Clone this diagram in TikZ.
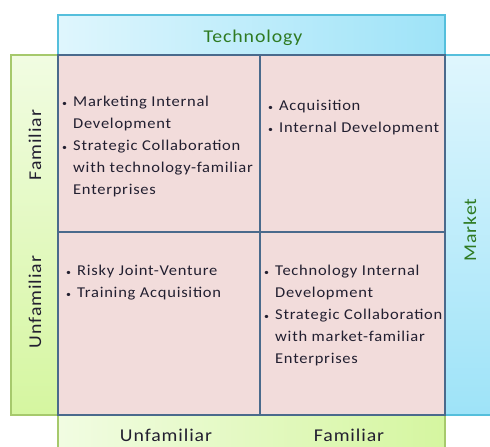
\documentclass[tikz,border=0pt]{standalone}
\usepackage{fontspec}
\setmainfont{Carlito}
\newfontfamily\wideface[FakeStretch=1.1,LetterSpace=5]{Carlito}
\usepackage{xcolor}
\usepackage{tikz}
\usetikzlibrary{positioning}

\definecolor{cellpink}{HTML}{F2DCDB}
\definecolor{gridblue}{HTML}{4A6A8C}
\definecolor{cyanlight}{HTML}{DFF6FD}
\definecolor{cyandark}{HTML}{9EE3F8}
\definecolor{cyanline}{HTML}{55BFDC}
\definecolor{greenlight}{HTML}{F1FCE2}
\definecolor{greendark}{HTML}{D5F6A0}
\definecolor{greenline}{HTML}{A6C96C}
\definecolor{headgreen}{HTML}{2E7A22}
\definecolor{bodytext}{HTML}{221F30}

\newcommand{\itm}{\makebox[11pt][l]{\small\textbullet}}
\newcommand{\cnt}{\hspace*{11pt}}

\begin{document}
\begin{tikzpicture}[x=1pt,y=-1pt]
        \tikzset{
            bar/.style={draw=#1, line width=1.2pt, inner sep=0pt, outer sep=0pt},
            cell/.style={draw=gridblue, line width=1.4pt, fill=cellpink, inner sep=0pt, outer sep=0pt},
            axis/.style={font=\wideface\fontsize{18}{22}\selectfont, text=bodytext},
            title/.style={font=\wideface\fontsize{18}{22}\selectfont, text=headgreen},
            entry/.style={font=\wideface\fontsize{15}{22}\selectfont, text=bodytext, align=left, inner sep=0pt, anchor=north west}
        }
        \useasboundingbox (0,0) rectangle (490,447);
        % side bars
        \node [bar=cyanline, left color=cyanlight, right color=cyandark, minimum width=387, minimum height=40, anchor=south west] (techbar) at (58,55) {};
        \node [bar=greenline, top color=greenlight, bottom color=greendark, minimum width=47, minimum height=360, anchor=north east] (marketbar) at (58,55) {};
        \node [bar=cyanline, top color=cyanlight, bottom color=cyandark, minimum width=60, minimum height=360, anchor=north west] (rightbar) at (445,55) {};
        \node [bar=greenline, left color=greenlight, right color=greendark, minimum width=387, minimum height=45, anchor=north west] (bottombar) at (58,415) {};
        % the four cells
        \node [cell, minimum width=202, minimum height=177, anchor=north west] (famUnf) at (58,55) {};
        \node [cell, minimum width=185, minimum height=177, anchor=north west] (famFam) at (260,55) {};
        \node [cell, minimum width=202, minimum height=183, anchor=north west] (unfUnf) at (58,232) {};
        \node [cell, minimum width=185, minimum height=183, anchor=north west] (unfFam) at (260,232) {};
        % headings
        \node [title] (tech) at (253,38) {Technology};
        \node [title, rotate=90] (market) at (470,230) {Market};
        \node [axis, rotate=90] (mfam) at (35,145) {Familiar};
        \node [axis, rotate=90] (munf) at (35,302) {Unfamiliar};
        \node [axis] (tunf) at (166,435) {Unfamiliar};
        \node [axis] (tfam) at (349,435) {Familiar};
        % entries
        \node [entry] (famUnfTxt) at (62,96) {\itm Marketing Internal\\ \cnt Development\\ \itm Strategic Collaboration\\ \cnt with technology-familiar\\ \cnt Enterprises};
        \node [entry] (famFamTxt) at (268,100) {\itm Acquisition\\ \itm Internal Development};
        \node [entry] (unfUnfTxt) at (66,265) {\itm Risky Joint-Venture\\ \itm Training Acquisition};
        \node [entry] (unfFamTxt) at (264,265) {\itm Technology Internal\\ \cnt Development\\ \itm Strategic Collaboration\\ \cnt with market-familiar\\ \cnt Enterprises};
\end{tikzpicture}
\end{document}
